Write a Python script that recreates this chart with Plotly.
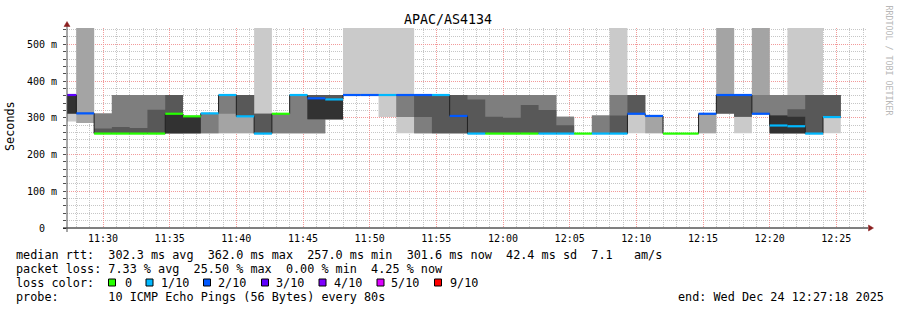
import plotly.graph_objects as go
import pandas as pd

# ---------------- data ----------------
title_text = "APAC/AS4134"
first_step_start = "2025-12-24 11:26:40"
step_seconds = 80
x_range = ["2025-12-24 11:27:18", "2025-12-24 12:27:18"]

# median RTT per 80 s step (ms)
median_ms = [362, 312, 257, 257, 257, 257, 311, 304, 312, 362,
             304, 257, 311, 362, 353, 350, 362, 362, 362, 362,
             362, 362, 305, 257, 257, 257, 257, 257, 257, 257,
             257, 257, 311, 305, 257, 257, 311, 362, 362, 311,
             279, 277, 257, 302]

# lost pings (out of 10) per step
loss_tenths = [3, 2, 0, 0, 0, 0, 0, 0, 1, 1,
               1, 1, 0, 1, 2, 1, 2, 2, 1, 2,
               2, 1, 2, 1, 0, 0, 0, 1, 1, 0,
               1, 1, 2, 2, 0, 0, 2, 2, 2, 2,
               1, 1, 1, 1]

# sorted ping slots (ms) per step, 10 slots each (smoke)
ping_sets = [
    [290, 312, 312, 312, 312, 362, 362, 362, 362, 362],
    [286, 286, 312, 312, 312, 312, 312, 312, 545, 545],
    [257, 257, 257, 257, 257, 257, 271, 312, 312, 312],
    [257, 257, 257, 257, 257, 257, 275, 362, 362, 362],
    [257, 257, 257, 257, 257, 257, 272, 362, 362, 362],
    [257, 257, 257, 257, 257, 257, 322, 362, 362, 362],
    [257, 257, 258, 258, 258, 311, 362, 362, 362, 362],
    [258, 258, 258, 258, 258, 304, 304, 304, 304, 304],
    [258, 258, 258, 312, 312, 312, 312, 312, 312, 312],
    [258, 258, 311, 362, 362, 362, 362, 362, 362, 362],
    [258, 258, 303, 303, 303, 303, 362, 362, 362, 362],
    [257, 257, 257, 257, 257, 257, 311, 311, 311, 545],
    [258, 258, 258, 312, 312, 312, 312, 312, 312, 312],
    [258, 258, 258, 362, 362, 362, 362, 362, 362, 362],
    [258, 258, 258, 296, 296, 352, 362, 362, 362, 362],
    [296, 296, 296, 296, 296, 350, 362, 362, 362, 362],
    [362, 362, 362, 362, 362, 362, 362, 362, 362, 545],
    [362, 362, 362, 362, 362, 362, 362, 362, 362, 545],
    [302, 362, 362, 362, 362, 362, 362, 362, 362, 545],
    [258, 302, 302, 362, 362, 362, 362, 362, 362, 545],
    [258, 258, 258, 302, 362, 362, 362, 362, 362, 362],
    [258, 258, 258, 258, 362, 362, 362, 362, 362, 362],
    [258, 258, 258, 258, 305, 305, 362, 362, 362, 362],
    [257, 257, 257, 257, 257, 257, 350, 362, 362, 362],
    [257, 257, 257, 257, 257, 257, 303, 362, 362, 362],
    [257, 257, 257, 257, 257, 257, 300, 362, 362, 362],
    [257, 257, 257, 257, 257, 257, 335, 362, 362, 362],
    [257, 257, 257, 257, 257, 257, 321, 362, 362, 362],
    [257, 257, 257, 257, 257, 257, 280, 303, 303, 303],
    [257, 257, 257, 257, 257, 257, 257, 257, 257, 257],
    [257, 257, 257, 257, 257, 257, 257, 306, 306, 306],
    [257, 257, 257, 257, 257, 257, 306, 362, 362, 545],
    [258, 311, 311, 311, 311, 311, 362, 362, 362, 362],
    [258, 258, 305, 305, 305, 305, 305, 305, 305, 305],
    [257, 257, 257, 257, 257, 257, 257, 257, 257, 257],
    [257, 257, 257, 257, 257, 257, 257, 257, 257, 257],
    [258, 258, 311, 311, 311, 311, 311, 311, 311, 311],
    [312, 312, 312, 312, 362, 362, 362, 362, 545, 545],
    [258, 303, 303, 303, 362, 362, 362, 362, 362, 362],
    [311, 311, 311, 311, 311, 311, 311, 362, 545, 545],
    [258, 258, 258, 258, 258, 306, 306, 362, 362, 362],
    [258, 258, 258, 258, 258, 303, 323, 362, 362, 545],
    [257, 257, 257, 257, 257, 257, 362, 362, 362, 545],
    [258, 302, 302, 302, 302, 302, 362, 362, 362, 362],
]

y_tick_vals = [0, 100, 200, 300, 400, 500]
y_tick_text = ["0\u00a0\u00a0", "100 m", "200 m", "300 m", "400 m", "500 m"]

loss_levels = [0, 1, 2, 3, 4, 5, 9]
loss_labels = ["0", "1/10", "2/10", "3/10", "4/10", "5/10", "9/10"]
loss_colors = ["#26ff00", "#00b8ff", "#0059ff", "#5e00ff", "#7e00ff", "#dd00ff", "#ff0000"]

smoke_colors = ["#cacaca", "#a4a4a4", "#7e7e7e", "#585858", "#323232"]

stats_lines = [
    "median rtt:  302.3 ms avg  362.0 ms max  257.0 ms min  301.6 ms now  42.4 ms sd  7.1   am/s",
    "packet loss: 7.33 % avg  25.50 % max  0.00 % min  4.25 % now",
]
probe_line = "probe:       10 ICMP Echo Pings (56 Bytes) every 80s"
end_line = "end: Wed Dec 24 12:27:18 2025"

# ---------------- figure ----------------
n = len(median_ms)
starts = pd.date_range(first_step_start, periods=n + 1, freq=f"{step_seconds}s")
xs = list(starts)

fig = go.Figure()

# smoke layers (outer -> inner)
for k in range(5):
    lo = [p[k] for p in ping_sets]
    hi = [p[9 - k] for p in ping_sets]
    fig.add_trace(go.Scatter(x=xs, y=lo + [lo[-1]], mode="lines",
                             line=dict(width=0, shape="hv"), hoverinfo="skip",
                             showlegend=False))
    fig.add_trace(go.Scatter(x=xs, y=hi + [hi[-1]], mode="lines",
                             line=dict(width=0, shape="hv"), fill="tonexty",
                             fillcolor=smoke_colors[k], hoverinfo="skip",
                             showlegend=False))

# thin dark median line
fig.add_trace(go.Scatter(x=xs, y=median_ms + [median_ms[-1]], mode="lines",
                         line=dict(width=1, color="#202020", shape="hv"),
                         hoverinfo="skip", showlegend=False))

# loss-coloured median bars
for lvl, col in zip(loss_levels, loss_colors):
    bx, by = [], []
    for i in range(n):
        if loss_tenths[i] == lvl:
            bx += [starts[i], starts[i + 1], None]
            by += [median_ms[i], median_ms[i], None]
    if bx:
        fig.add_trace(go.Scatter(x=bx, y=by, mode="lines",
                                 line=dict(width=2.2, color=col),
                                 hoverinfo="skip", showlegend=False))

L, R, T, B = 67, 30, 28, 82
W, H = 897, 310
PW, PH = W - L - R, H - T - B


def px(xp):
    return (xp - L) / PW


def py(yp):
    return (H - B - yp) / PH


mono = "DejaVu Sans Mono"
annotations = []


def text(xp, yp, s, size=11.8, color="black", xanchor="left", angle=0):
    annotations.append(dict(x=px(xp), y=py(yp), xref="paper", yref="paper",
                            text=s.replace(" ", "\u00a0"), showarrow=False,
                            xanchor=xanchor, yanchor="middle", textangle=angle,
                            borderpad=0, borderwidth=0,
                            font=dict(family=mono, size=size, color=color)))


text(448, 19, title_text, size=13.3, xanchor="center")
text(10, 126, "Seconds", angle=-90, xanchor="center")
text(888.5, 60, "RRDTOOL / TOBI OETIKER", size=8.3, color="#b8b8b8",
     xanchor="center", angle=90)
text(16, 255, stats_lines[0])
text(16, 268.5, stats_lines[1])
text(16, 282.5, "loss color:")
box_left = [108.5, 146, 203.5, 261.5, 319, 377, 434.5]
label_left = [124.5, 160.5, 218, 276, 333.5, 391, 449.5]
shapes = []
for bl, ll, lab, col in zip(box_left, label_left, loss_labels, loss_colors):
    text(ll, 282.5, lab)
    shapes.append(dict(type="rect", xref="paper", yref="paper",
                       x0=px(bl), x1=px(bl + 7), y0=py(286), y1=py(279),
                       fillcolor=col, line=dict(color="black", width=1)))
text(16, 296.5, probe_line)
text(678, 296.5, end_line)

# axes extensions and arrows
shapes.append(dict(type="line", xref="paper", yref="paper",
                   x0=px(63), x1=px(868), y0=py(228), y1=py(228),
                   line=dict(color="black", width=1)))
shapes.append(dict(type="line", xref="paper", yref="paper",
                   x0=px(67), x1=px(67), y0=py(232), y1=py(25),
                   line=dict(color="#505050", width=1)))
arrow = "#8b1e1e"
shapes.append(dict(type="path", xref="paper", yref="paper",
                   path=f"M {px(67)} {py(21.5)} L {px(64)} {py(26.5)} L {px(70)} {py(26.5)} Z",
                   fillcolor=arrow, line=dict(color=arrow, width=0.5)))
shapes.append(dict(type="path", xref="paper", yref="paper",
                   path=f"M {px(873.5)} {py(228)} L {px(868.5)} {py(225)} L {px(868.5)} {py(231)} Z",
                   fillcolor=arrow, line=dict(color=arrow, width=0.5)))

minor_grid = "#c6c6c6"
major_grid = "#f29a9a"

fig.update_layout(
    width=W, height=H,
    margin=dict(l=L, r=R, t=T, b=B, pad=0),
    paper_bgcolor="white", plot_bgcolor="white",
    showlegend=False,
    annotations=annotations,
    shapes=shapes,
    xaxis=dict(
        type="date", range=x_range,
        tick0="2025-12-24 11:30:00", dtick=300000, tickformat="%H:%M",
        tickfont=dict(family=mono, size=10, color="black"),
        ticks="", showline=False, zeroline=False,
        showgrid=True, gridcolor=major_grid, griddash="1px,1px", gridwidth=1,
        minor=dict(dtick=60000, showgrid=True, gridcolor=minor_grid,
                   griddash="1px,1px", gridwidth=1),
        ticklabelstandoff=3,
    ),
    yaxis=dict(
        range=[0, 544.4], tickvals=y_tick_vals, ticktext=y_tick_text,
        tickfont=dict(family=mono, size=10, color="black"),
        ticks="outside", ticklen=3, tickcolor="#505050",
        showline=False, zeroline=False,
        showgrid=True, gridcolor=major_grid, griddash="1px,1px", gridwidth=1,
        minor=dict(dtick=20, tick0=0, showgrid=True, gridcolor=minor_grid,
                   griddash="1px,1px", gridwidth=1, ticks="outside",
                   ticklen=3, tickcolor="#505050"),
        ticklabelstandoff=4,
    ),
)

fig.write_html("out.html")
